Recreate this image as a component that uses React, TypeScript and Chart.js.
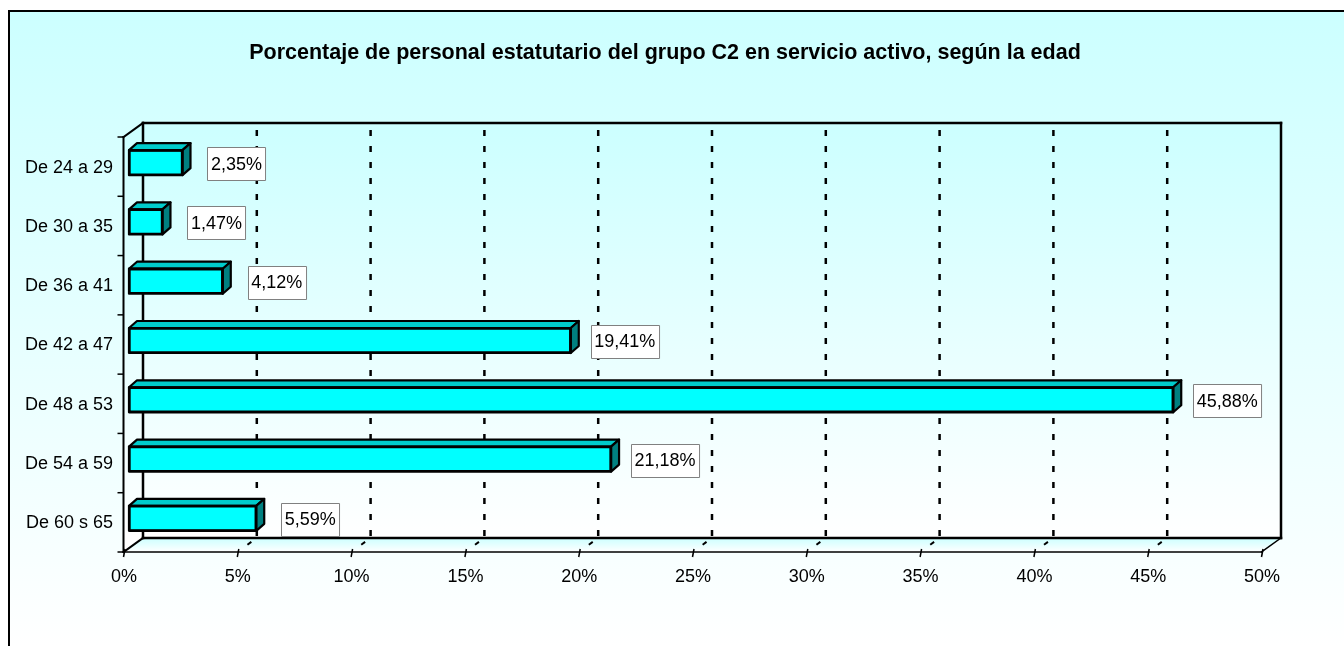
import React, { useEffect, useRef } from 'react';
import { Chart, registerables } from 'chart.js';

Chart.register(...registerables);

const TITLE = 'Porcentaje de personal estatutario del grupo C2 en servicio activo, según la edad';
const categories = ['De 24 a 29', 'De 30 a 35', 'De 36 a 41', 'De 42 a 47', 'De 48 a 53', 'De 54 a 59', 'De 60 s 65'];
const percentages = [2.35, 1.47, 4.12, 19.41, 45.88, 21.18, 5.59];
const axisMin = 0;
const axisMax = 50;
const axisStep = 5;

const FONT = "'Liberation Sans', Arial, Helvetica, sans-serif";
const W = 1344;
const H = 646;
// 3D geometry offsets relative to the chart area (bar plane)
const FRONT = { dx: -5.5, dy: 4 };
const BACK = { dx: 14, dy: -10 };
const BAR_DEPTH = { dx: 8, dy: 7 };
const LABEL_GAP = 54;

const fmt = (v: number) => v.toFixed(2).replace('.', ',') + '%';

const threeD = {
  id: 'threeD',
  beforeDraw(chart: any) {
    const { ctx, chartArea: a, scales } = chart;
    const xs = scales.x;
    ctx.save();
    ctx.fillStyle = '#FFFFFF';
    ctx.fillRect(0, 0, W, H);
    const g = ctx.createLinearGradient(0, 11, 0, H);
    g.addColorStop(0, '#CCFFFF');
    g.addColorStop(1, '#FFFFFF');
    ctx.fillStyle = g;
    ctx.fillRect(9, 11, W, H);
    ctx.strokeStyle = '#000';
    ctx.lineWidth = 2;
    ctx.strokeRect(9, 11, W + 40, H + 40);

    ctx.font = `bold 21.5px ${FONT}`;
    ctx.fillStyle = '#000';
    ctx.textAlign = 'center';
    ctx.textBaseline = 'alphabetic';
    ctx.fillText(TITLE, 665, 59);

    const fl = a.left + FRONT.dx, fr = a.right + FRONT.dx, ft = a.top + FRONT.dy, fb = a.bottom + FRONT.dy;
    const bl = a.left + BACK.dx, br = a.right + BACK.dx, bt = a.top + BACK.dy, bb = a.bottom + BACK.dy;

    const gw = ctx.createLinearGradient(0, bt, 0, bb);
    gw.addColorStop(0, '#CCFFFF');
    gw.addColorStop(1, '#FFFFFF');
    ctx.fillStyle = gw;
    ctx.fillRect(bl, bt, br - bl, bb - bt);
    ctx.beginPath();
    ctx.moveTo(fl, ft); ctx.lineTo(bl, bt); ctx.lineTo(bl, bb); ctx.lineTo(fl, fb); ctx.closePath();
    ctx.fill();

    const gf = ctx.createLinearGradient(0, bb, 0, fb);
    gf.addColorStop(0, '#CCFFFF');
    gf.addColorStop(1, '#FFFFFF');
    ctx.fillStyle = gf;
    ctx.beginPath();
    ctx.moveTo(bl, bb); ctx.lineTo(br, bb); ctx.lineTo(fr, fb); ctx.lineTo(fl, fb); ctx.closePath();
    ctx.fill();

    // dashed grid lines on the back wall + floor
    for (let v = axisMin + axisStep; v < axisMax; v += axisStep) {
      const px = xs.getPixelForValue(v);
      const bx = px + BACK.dx;
      const fx = px + FRONT.dx;
      ctx.strokeStyle = '#000';
      ctx.lineWidth = 2.5;
      ctx.setLineDash([6, 10]);
      ctx.lineDashOffset = -7;
      ctx.beginPath();
      ctx.moveTo(bx, bt); ctx.lineTo(bx, bb);
      ctx.stroke();
      ctx.setLineDash([]);
      ctx.lineWidth = 2;
      const t0 = 0.28, t1 = 0.48;
      ctx.beginPath();
      ctx.moveTo(bx + (fx - bx) * t0, bb + (fb - bb) * t0);
      ctx.lineTo(bx + (fx - bx) * t1, bb + (fb - bb) * t1);
      ctx.stroke();
    }
    // front ticks
    ctx.lineWidth = 1.5;
    for (let v = axisMin; v <= axisMax; v += axisStep) {
      const fx = xs.getPixelForValue(v) + FRONT.dx;
      ctx.beginPath();
      ctx.moveTo(fx + 1.5, fb - 3); ctx.lineTo(fx, fb + 5);
      ctx.stroke();
    }
    // category ticks
    const n = categories.length;
    for (let k = 0; k <= n; k++) {
      const y = a.top + (k * (a.bottom - a.top)) / n + FRONT.dy;
      ctx.beginPath();
      ctx.moveTo(fl - 6, y); ctx.lineTo(fl, y);
      ctx.stroke();
    }

    // frame lines
    const line = (x1: number, y1: number, x2: number, y2: number, w: number) => {
      ctx.lineWidth = w;
      ctx.beginPath();
      ctx.moveTo(x1, y1); ctx.lineTo(x2, y2);
      ctx.stroke();
    };
    ctx.lineCap = 'square';
    line(bl, bt, br, bt, 2.5);
    line(br, bt, br, bb, 2.5);
    line(bl, bt, bl, bb, 2.5);
    line(bl, bb, br, bb, 2.5);
    line(fl, ft, fl, fb, 2);
    line(fl, ft, bl, bt, 2);
    line(fl, fb, bl, bb, 2);
    line(fl, fb, fr, fb, 1.5);
    line(br, bb, fr, fb, 1.5);
    ctx.restore();
  },
  afterDatasetsDraw(chart: any) {
    const { ctx } = chart;
    const meta = chart.getDatasetMeta(0);
    ctx.save();
    meta.data.forEach((el: any, i: number) => {
      const { x, y, base, height } = el.getProps(['x', 'y', 'base', 'height'], true);
      const top = y - height / 2;
      const bot = y + height / 2;
      const left = Math.min(base, x);
      const right = Math.max(base, x);
      ctx.lineWidth = 2.2;
      ctx.strokeStyle = '#000';
      ctx.lineJoin = 'round';
      ctx.beginPath();
      ctx.moveTo(left, top);
      ctx.lineTo(left + BAR_DEPTH.dx, top - BAR_DEPTH.dy);
      ctx.lineTo(right + BAR_DEPTH.dx, top - BAR_DEPTH.dy);
      ctx.lineTo(right, top);
      ctx.closePath();
      ctx.fillStyle = '#00CCCC';
      ctx.fill();
      ctx.stroke();
      ctx.beginPath();
      ctx.moveTo(right, top);
      ctx.lineTo(right + BAR_DEPTH.dx, top - BAR_DEPTH.dy);
      ctx.lineTo(right + BAR_DEPTH.dx, bot - BAR_DEPTH.dy);
      ctx.lineTo(right, bot);
      ctx.closePath();
      ctx.fillStyle = '#008080';
      ctx.fill();
      ctx.stroke();
      ctx.strokeRect(left, top, right - left, bot - top);

      const txt = fmt(percentages[i]);
      ctx.font = `18px ${FONT}`;
      const tw = ctx.measureText(txt).width;
      const bw = tw + 7;
      const bh = 33;
      const cx = right + LABEL_GAP;
      const cy = y + 1;
      const bx = Math.round(cx - bw / 2) + 0.5;
      const by = Math.round(cy - bh / 2) + 0.5;
      ctx.fillStyle = '#FFFFFF';
      ctx.fillRect(bx, by, bw, bh);
      ctx.strokeStyle = '#808080';
      ctx.lineWidth = 1;
      ctx.strokeRect(bx, by, bw, bh);
      ctx.fillStyle = '#000';
      ctx.textAlign = 'center';
      ctx.textBaseline = 'middle';
      ctx.fillText(txt, cx, cy + 1);
    });
    ctx.restore();
  },
};

export default function App() {
  const ref = useRef<HTMLCanvasElement | null>(null);
  useEffect(() => {
    if (!ref.current) return;
    const chart = new Chart(ref.current, {
      type: 'bar',
      data: {
        labels: categories,
        datasets: [
          {
            data: percentages,
            backgroundColor: '#00FFFF',
            borderColor: '#000000',
            borderWidth: 2,
            borderSkipped: false,
            barThickness: 25,
          },
        ],
      },
      options: {
        indexAxis: 'y',
        responsive: false,
        animation: false,
        layout: { padding: { left: 0, right: 77, top: 133, bottom: 0 } },
        plugins: {
          legend: { display: false },
          tooltip: { enabled: false },
          title: { display: false },
        },
        scales: {
          x: {
            type: 'linear',
            min: axisMin,
            max: axisMax,
            position: 'bottom',
            grid: { display: false, drawTicks: false },
            border: { display: false },
            ticks: {
              stepSize: axisStep,
              callback: (v: any) => v + '%',
              color: '#000',
              font: { family: FONT, size: 18 },
              padding: 18,
              labelOffset: -5,
              maxRotation: 0,
              autoSkip: false,
            },
            afterFit: (s: any) => {
              s.height = 98;
            },
          },
          y: {
            grid: { display: false, drawTicks: false },
            border: { display: false },
            ticks: {
              color: '#000',
              font: { family: FONT, size: 18 },
              padding: 16,
              labelOffset: 5,
              autoSkip: false,
            },
            afterFit: (s: any) => {
              s.width = 129;
            },
          },
        },
      } as any,
      plugins: [threeD],
    });
    return () => chart.destroy();
  }, []);
  return (
    <div style={{ position: 'fixed', left: 0, top: 0, width: W, height: H }}>
      <canvas ref={ref} width={W} height={H} style={{ display: 'block' }} />
    </div>
  );
}
